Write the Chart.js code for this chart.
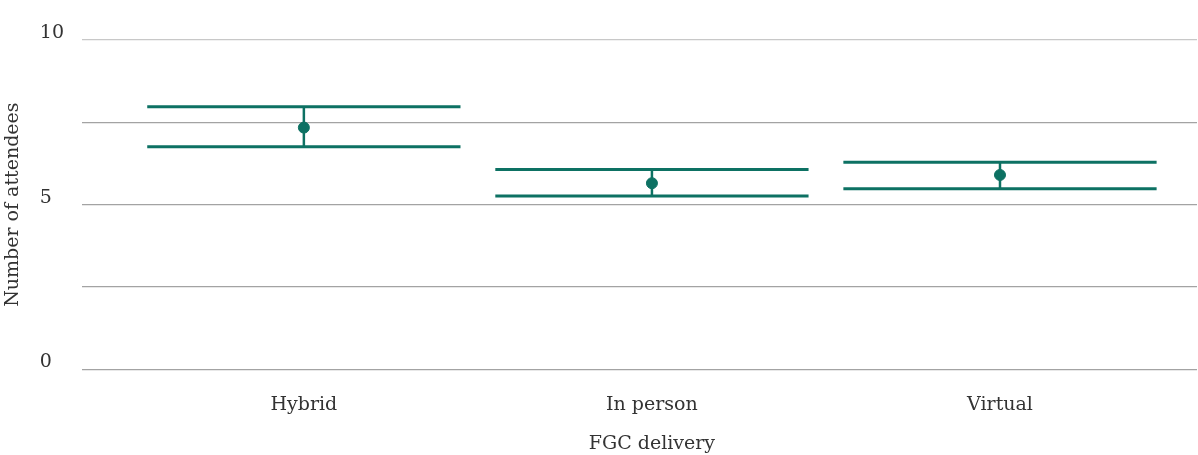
<!DOCTYPE html>
<html>
<head>
<meta charset="utf-8">
<script src="https://cdn.jsdelivr.net/npm/chart.js@4"></script>
<style>
  html, body { margin: 0; padding: 0; background: #fff; overflow: hidden; }
  canvas { display: block; }
</style>
</head>
<body>
<canvas id="chartAttendees" width="1198" height="455"></canvas>
<script>
const categories = ['Hybrid', 'In person', 'Virtual'];
const meanValues = [7.34, 5.65, 5.90];
const upperValues = [7.97, 6.07, 6.29];
const lowerValues = [6.76, 5.26, 5.48];
const yTicks = [0, 2.5, 5, 7.5, 10];
const yTickLabels = ['0', '', '5', '', '10'];
const xTitle = 'FGC delivery';

const teal = '#0d7163';
const capHalf = 0.45;

// build the whisker segments from the arrays (null breaks the line)
const caps = [];
const stems = [];
categories.forEach((c, i) => {
    const x = i + 1;
    caps.push({ x: x - capHalf, y: upperValues[i] }, { x: x + capHalf, y: upperValues[i] }, { x: x, y: null });
    caps.push({ x: x - capHalf, y: lowerValues[i] }, { x: x + capHalf, y: lowerValues[i] }, { x: x, y: null });
    stems.push({ x: x, y: lowerValues[i] }, { x: x, y: upperValues[i] }, { x: x, y: null });
});
const points = meanValues.map((v, i) => ({ x: i + 1, y: v }));

const serif = 'DejaVu Serif';
Chart.defaults.font.family = serif;
Chart.defaults.color = '#333';

// x title sits under the middle category, not the middle of the grid
const xTitlePlugin = {
    id: 'xTitle',
    afterDraw(chart) {
        const ctx = chart.ctx;
        const xs = chart.scales.x;
        ctx.save();
        ctx.font = '19px "' + serif + '"';
        ctx.fillStyle = '#333';
        ctx.textAlign = 'center';
        ctx.textBaseline = 'middle';
        ctx.fillText(xTitle, xs.getPixelForValue(2), chart.chartArea.bottom + 75);
        ctx.restore();
    }
};

new Chart(document.getElementById('chartAttendees').getContext('2d'), {
    type: 'scatter',
    data: {
        datasets: [
            {
                label: 'caps',
                data: caps,
                showLine: true,
                spanGaps: false,
                borderColor: teal,
                borderWidth: 3,
                pointRadius: 0,
                fill: false
            },
            {
                label: 'stems',
                data: stems,
                showLine: true,
                spanGaps: false,
                borderColor: teal,
                borderWidth: 2.5,
                pointRadius: 0,
                fill: false
            },
            {
                label: 'mean',
                data: points,
                backgroundColor: teal,
                borderColor: teal,
                pointRadius: 5.5,
                pointHoverRadius: 5.5
            }
        ]
    },
    options: {
        responsive: false,
        animation: false,
        devicePixelRatio: 1,
        layout: { autoPadding: false, padding: { top: 40, right: 1, left: 0, bottom: 15 } },
        plugins: {
            legend: { display: false },
            tooltip: { enabled: false },
            title: {
                display: true,
                position: 'left',
                fullSize: false,
                text: 'Number of attendees',
                font: { family: serif, size: 19, weight: 'normal' },
                color: '#333',
                padding: { top: 2, bottom: 15 }
            }
        },
        scales: {
            x: {
                type: 'linear',
                min: 0.362,
                max: 3.566,
                grid: { display: false, drawTicks: false },
                border: { display: false },
                afterBuildTicks: (scale) => {
                    scale.ticks = categories.map((c, i) => ({ value: i + 1 }));
                },
                ticks: {
                    font: { size: 19 },
                    color: '#333',
                    padding: 24,
                    maxRotation: 0,
                    callback: (v) => categories[v - 1]
                }
            },
            y: {
                min: 0,
                max: 10,
                afterBuildTicks: (scale) => {
                    scale.ticks = yTicks.map(v => ({ value: v }));
                },
                afterFit: (scale) => { scale.width = 42; },
                grid: {
                    color: (ctx) => ctx.tick && ctx.tick.value === 10 ? '#c8c8c8' : '#a3a3a3',
                    lineWidth: 1.2,
                    drawTicks: false
                },
                border: { display: false },
                ticks: {
                    font: { size: 19 },
                    color: '#333',
                    crossAlign: 'far',
                    labelOffset: -7,
                    padding: 0,
                    callback: (v, i) => yTickLabels[i]
                }
            }
        }
    },
    plugins: [xTitlePlugin]
});
</script>
</body>
</html>
